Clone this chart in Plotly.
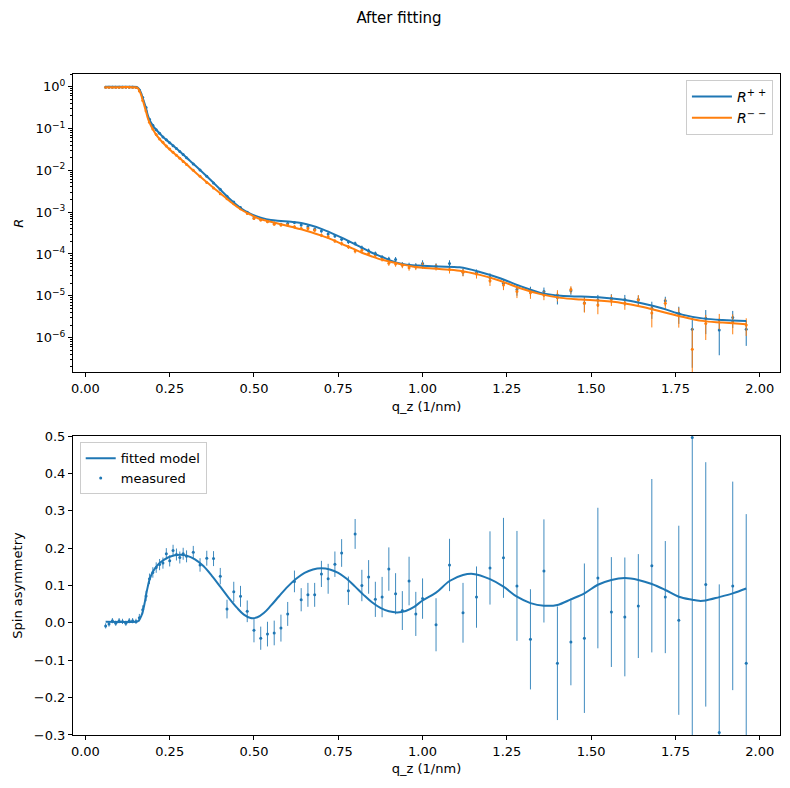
import plotly.graph_objects as go

# measured q points (1/nm), shared by reflectivity and spin asymmetry
q = [0.06, 0.07, 0.08, 0.09, 0.10, 0.11, 0.12, 0.13, 0.14, 0.15,
     0.16, 0.17, 0.18, 0.19, 0.20, 0.21, 0.22, 0.23, 0.24, 0.25,
     0.26, 0.27, 0.28, 0.29, 0.30,
     0.32, 0.34, 0.36, 0.38, 0.40, 0.42, 0.44, 0.46, 0.48, 0.50,
     0.52, 0.54, 0.56, 0.58, 0.60, 0.62, 0.64, 0.66, 0.68, 0.70,
     0.72, 0.74, 0.76, 0.78, 0.80, 0.82, 0.84, 0.86, 0.88, 0.90,
     0.92, 0.94, 0.96, 0.98, 1.00,
     1.04, 1.08, 1.12, 1.16, 1.20, 1.24, 1.28, 1.32, 1.36, 1.40,
     1.44, 1.48, 1.52, 1.56, 1.60, 1.64, 1.68, 1.72, 1.76, 1.80,
     1.84, 1.88, 1.92, 1.96]

# measured reflectivity, log10(R)
log_rpp = [-0.01, -0.01, -0.01, -0.01, -0.01, -0.01, -0.01, -0.01, -0.01, -0.01,
           -0.08, -0.26, -0.50, -0.78, -0.92, -1.03, -1.11, -1.20, -1.27, -1.34,
           -1.41, -1.48, -1.55, -1.62, -1.70,
           -1.85, -1.99, -2.14, -2.30, -2.45, -2.62, -2.76, -2.89, -3.00, -3.14,
           -3.17, -3.21, -3.26, -3.29, -3.27, -3.25, -3.31, -3.35, -3.41, -3.45,
           -3.52, -3.57, -3.65, -3.71, -3.75, -3.85, -3.92, -3.99, -4.08, -4.12,
           -4.13, -4.25, -4.27, -4.28, -4.23,
           -4.29, -4.23, -4.43, -4.45, -4.56, -4.70, -4.85, -4.88, -4.90, -5.04,
           -4.88, -5.17, -5.10, -5.06, -5.09, -5.09, -5.30, -5.12, -5.42, -5.80,
           -5.54, -5.82, -5.52, -5.80]
log_rmm = [-0.015, -0.015, -0.015, -0.015, -0.015, -0.015, -0.015, -0.015, -0.015, -0.02,
           -0.10, -0.33, -0.58, -0.85, -1.01, -1.14, -1.25, -1.33, -1.42, -1.49,
           -1.57, -1.64, -1.71, -1.79, -1.86,
           -2.00, -2.14, -2.29, -2.42, -2.56, -2.68, -2.80, -2.92, -3.03, -3.15,
           -3.19, -3.23, -3.29, -3.31, -3.31, -3.35, -3.39, -3.39, -3.43, -3.55,
           -3.59, -3.69, -3.75, -3.83, -3.93, -3.91, -3.99, -4.03, -4.12, -4.22,
           -4.24, -4.27, -4.33, -4.31, -4.27,
           -4.31, -4.37, -4.44, -4.48, -4.64, -4.74, -4.90, -4.93, -4.98, -4.98,
           -4.85, -5.18, -5.22, -5.09, -5.18, -5.10, -5.41, -5.18, -5.46, -6.28,
           -5.66, -5.58, -5.62, -5.70]

# relative uncertainty dR/R
rel_err_pp = [0.02, 0.02, 0.02, 0.02, 0.02, 0.02, 0.02, 0.02, 0.02, 0.02,
              0.03, 0.03, 0.03, 0.03, 0.03, 0.03, 0.03, 0.03, 0.03, 0.03,
              0.03, 0.03, 0.03, 0.03, 0.03,
              0.04, 0.04, 0.04, 0.05, 0.05, 0.05, 0.05, 0.06, 0.06, 0.06,
              0.07, 0.07, 0.07, 0.08, 0.08, 0.08, 0.08, 0.09, 0.09, 0.09,
              0.10, 0.10, 0.10, 0.11, 0.11, 0.12, 0.12, 0.12, 0.13, 0.13,
              0.14, 0.14, 0.15, 0.15, 0.20,
              0.16, 0.20, 0.20, 0.20, 0.25, 0.25, 0.29, 0.25, 0.25, 0.32,
              0.20, 0.39, 0.32, 0.25, 0.29, 0.25, 0.44, 0.25, 0.44, 0.88,
              0.58, 0.75, 0.44, 0.60]
rel_err_mm = [0.02, 0.02, 0.02, 0.02, 0.02, 0.02, 0.02, 0.02, 0.02, 0.02,
              0.03, 0.03, 0.03, 0.03, 0.03, 0.03, 0.03, 0.03, 0.03, 0.03,
              0.03, 0.03, 0.03, 0.03, 0.03,
              0.04, 0.04, 0.04, 0.05, 0.05, 0.05, 0.05, 0.06, 0.06, 0.06,
              0.07, 0.07, 0.07, 0.08, 0.08, 0.08, 0.08, 0.09, 0.09, 0.10,
              0.10, 0.10, 0.11, 0.11, 0.12, 0.12, 0.12, 0.13, 0.13, 0.14,
              0.14, 0.15, 0.15, 0.16, 0.18,
              0.18, 0.20, 0.20, 0.22, 0.25, 0.25, 0.30, 0.28, 0.25, 0.30,
              0.20, 0.40, 0.40, 0.30, 0.30, 0.30, 0.55, 0.30, 0.50, 2.20,
              0.60, 0.40, 0.50, 0.45]

# fitted reflectivity model, log10(R)
q_fit = [0.06, 0.10, 0.14, 0.15, 0.155, 0.16, 0.165, 0.17, 0.175, 0.18,
         0.185, 0.19, 0.20, 0.21, 0.23, 0.25, 0.28, 0.31, 0.34, 0.37,
         0.40, 0.43, 0.46, 0.49, 0.52, 0.55, 0.58, 0.61, 0.64, 0.67,
         0.70, 0.73, 0.76, 0.79, 0.82, 0.85, 0.88, 0.91, 0.94, 0.97,
         1.00, 1.05, 1.11, 1.17, 1.23, 1.29, 1.35, 1.41, 1.47, 1.53,
         1.59, 1.65, 1.71, 1.77, 1.83, 1.89, 1.96]
log_fit_pp = [0.0, 0.0, 0.0, -0.005, -0.02, -0.07, -0.15, -0.27, -0.39, -0.52,
              -0.68, -0.79, -0.93, -1.03, -1.20, -1.34, -1.55, -1.77, -1.99, -2.22,
              -2.46, -2.70, -2.90, -3.04, -3.13, -3.19, -3.21, -3.23, -3.26, -3.32,
              -3.40, -3.50, -3.61, -3.73, -3.85, -3.97, -4.07, -4.17, -4.24, -4.27,
              -4.28, -4.30, -4.32, -4.43, -4.58, -4.77, -4.93, -5.00, -5.02, -5.04,
              -5.09, -5.18, -5.30, -5.45, -5.54, -5.58, -5.60]
log_fit_mm = [-0.01, -0.01, -0.01, -0.015, -0.03, -0.09, -0.19, -0.32, -0.46, -0.60,
              -0.75, -0.86, -1.02, -1.15, -1.34, -1.50, -1.71, -1.93, -2.15, -2.35,
              -2.55, -2.75, -2.93, -3.06, -3.17, -3.23, -3.29, -3.35, -3.41, -3.48,
              -3.56, -3.65, -3.76, -3.86, -3.97, -4.06, -4.14, -4.20, -4.25, -4.30,
              -4.33, -4.36, -4.40, -4.50, -4.64, -4.82, -4.96, -5.05, -5.09, -5.12,
              -5.17, -5.26, -5.38, -5.50, -5.60, -5.64, -5.68]

# measured spin asymmetry and its uncertainty
spin_asym = [-0.008, -0.003, 0.006, -0.001, 0.006, 0.004, -0.001, 0.006, 0.006, 0.004,
             0.014, 0.035, 0.072, 0.118, 0.135, 0.148, 0.156, 0.160, 0.185, 0.166,
             0.194, 0.183, 0.175, 0.185, 0.178,
             0.189, 0.155, 0.173, 0.172, 0.125, 0.037, 0.083, 0.071, 0.031, -0.020,
             -0.041, -0.030, -0.027, -0.014, 0.024, 0.111, 0.062, 0.075, 0.075, 0.131,
             0.118, 0.157, 0.187, 0.086, 0.238, 0.100, 0.123, 0.063, 0.069, 0.144,
             0.078, 0.033, 0.112, 0.024, 0.065,
             -0.005, 0.155, 0.027, 0.069, 0.147, 0.174, 0.099, -0.044, 0.139, -0.108,
             -0.051, -0.041, 0.120, 0.029, 0.016, 0.045, 0.153, 0.069, 0.007, 0.496,
             0.103, -0.293, 0.099, -0.108]
spin_asym_err = [0.007, 0.007, 0.007, 0.007, 0.007, 0.007, 0.007, 0.007, 0.007, 0.007,
                 0.010, 0.012, 0.014, 0.014, 0.014, 0.014, 0.015, 0.015, 0.015, 0.015,
                 0.015, 0.016, 0.016, 0.016, 0.016,
                 0.017, 0.018, 0.020, 0.020, 0.022, 0.025, 0.027, 0.028, 0.029, 0.032,
                 0.031, 0.033, 0.033, 0.036, 0.032, 0.029, 0.031, 0.032, 0.032, 0.035,
                 0.040, 0.034, 0.037, 0.038, 0.040, 0.042, 0.045, 0.047, 0.054, 0.058,
                 0.055, 0.052, 0.065, 0.059, 0.054,
                 0.071, 0.070, 0.080, 0.082, 0.098, 0.107, 0.147, 0.134, 0.138, 0.152,
                 0.116, 0.200, 0.188, 0.147, 0.159, 0.139, 0.232, 0.150, 0.253, 0.850,
                 0.327, 0.396, 0.279, 0.399]

# fitted spin asymmetry model
q_sa_fit = [0.06, 0.15, 0.155, 0.16, 0.165, 0.17, 0.175, 0.18, 0.185, 0.19,
            0.20, 0.21, 0.22, 0.235, 0.25, 0.28, 0.30, 0.325, 0.35, 0.375,
            0.40, 0.425, 0.45, 0.47, 0.49, 0.51, 0.53, 0.55, 0.575, 0.60,
            0.625, 0.65, 0.675, 0.70, 0.725, 0.75, 0.775, 0.80, 0.825, 0.85,
            0.875, 0.90, 0.925, 0.95, 0.975, 1.00, 1.04, 1.08, 1.12, 1.15,
            1.20, 1.24, 1.28, 1.32, 1.36, 1.40, 1.44, 1.48, 1.52, 1.56,
            1.60, 1.64, 1.68, 1.72, 1.76, 1.80, 1.82, 1.84, 1.88, 1.92, 1.96]
sa_fit = [0.003, 0.003, 0.004, 0.008, 0.017, 0.030, 0.050, 0.075, 0.097, 0.115,
          0.137, 0.150, 0.160, 0.170, 0.177, 0.182, 0.180, 0.170, 0.152, 0.126,
          0.097, 0.067, 0.040, 0.022, 0.013, 0.015, 0.027, 0.046, 0.072, 0.097,
          0.118, 0.134, 0.143, 0.146, 0.143, 0.134, 0.118, 0.097, 0.075, 0.055,
          0.040, 0.031, 0.028, 0.032, 0.043, 0.060, 0.081, 0.112, 0.128, 0.131,
          0.117, 0.097, 0.070, 0.053, 0.046, 0.048, 0.063, 0.079, 0.102, 0.115,
          0.120, 0.115, 0.104, 0.088, 0.070, 0.062, 0.059, 0.060, 0.069, 0.079, 0.092]

BLUE = '#1f77b4'
ORANGE = '#ff7f0e'
FONT = 'DejaVu Sans'

r_pp = [10 ** v for v in log_rpp]
r_mm = [10 ** v for v in log_rmm]
dr_pp = [r * e for r, e in zip(r_pp, rel_err_pp)]
dr_mm = [r * e for r, e in zip(r_mm, rel_err_mm)]

fig = go.Figure()

# reflectivity data
for r, dr, color in [(r_pp, dr_pp, BLUE), (r_mm, dr_mm, ORANGE)]:
    fig.add_trace(go.Scatter(
        x=q, y=r, mode='markers',
        marker=dict(color=color, size=3),
        error_y=dict(type='data', array=dr, color=color, thickness=1, width=0),
        showlegend=False, xaxis='x', yaxis='y',
    ))

# reflectivity fits
fig.add_trace(go.Scatter(
    x=q_fit, y=[10 ** v for v in log_fit_pp], mode='lines',
    line=dict(color=BLUE, width=2, shape='spline'),
    name='<i>R</i><sup>+ +</sup>', legend='legend', xaxis='x', yaxis='y',
))
fig.add_trace(go.Scatter(
    x=q_fit, y=[10 ** v for v in log_fit_mm], mode='lines',
    line=dict(color=ORANGE, width=2, shape='spline'),
    name='<i>R</i><sup>− −</sup>', legend='legend', xaxis='x', yaxis='y',
))

# spin asymmetry
fig.add_trace(go.Scatter(
    x=q_sa_fit, y=sa_fit, mode='lines',
    line=dict(color=BLUE, width=2, shape='spline'),
    name='fitted model', legend='legend2', xaxis='x2', yaxis='y2',
))
fig.add_trace(go.Scatter(
    x=q, y=spin_asym, mode='markers',
    marker=dict(color=BLUE, size=3),
    error_y=dict(type='data', array=spin_asym_err, color='rgba(31,119,180,0.85)',
                 thickness=1, width=0),
    name='measured', legend='legend2', xaxis='x2', yaxis='y2',
))

minor_log = [k * 10 ** e for e in range(-7, 1) for k in range(2, 10)]
axis_common = dict(
    showline=True, linecolor='black', linewidth=1, mirror=True,
    ticks='outside', ticklen=4, tickcolor='black', showgrid=False,
    zeroline=False, automargin=False, tickfont=dict(size=13, color='black'),
)
x_ticks = [0.0, 0.25, 0.5, 0.75, 1.0, 1.25, 1.5, 1.75, 2.0]

# the page body adds 8 px on the left and top, so the figure is 8 px smaller
fig.update_layout(
    width=782, height=780,
    margin=dict(l=65, r=10, t=66, b=53),
    paper_bgcolor='white', plot_bgcolor='white',
    font=dict(family=FONT, size=13, color='black'),
    title=dict(text='After fitting', x=0.5, xanchor='center', y=0.987,
               yanchor='middle', font=dict(size=15)),
    xaxis=dict(axis_common, domain=[0, 1], anchor='y', range=[-0.0368, 2.0602],
               tickvals=x_ticks, tickformat='.2f',
               title=dict(text='q_z (1/nm)', standoff=6, font=dict(size=13))),
    yaxis=dict(axis_common, domain=[0.5487, 1], anchor='x', type='log',
               range=[-6.83, 0.304],
               tickvals=[1e-6, 1e-5, 1e-4, 1e-3, 1e-2, 1e-1, 1],
               ticktext=['10<sup>−6</sup>', '10<sup>−5</sup>', '10<sup>−4</sup>',
                         '10<sup>−3</sup>', '10<sup>−2</sup>', '10<sup>−1</sup>',
                         '10<sup>0</sup>'],
               minor=dict(tickvals=minor_log, ticks='outside', ticklen=2,
                          tickcolor='black'),
               title=dict(text='<i>R</i>', standoff=8, font=dict(size=13))),
    xaxis2=dict(axis_common, domain=[0, 1], anchor='y2', range=[-0.0368, 2.0602],
                tickvals=x_ticks, tickformat='.2f',
                title=dict(text='q_z (1/nm)', standoff=6, font=dict(size=13))),
    yaxis2=dict(axis_common, domain=[0, 0.4523], anchor='x2', range=[-0.3, 0.5],
                tickvals=[-0.3, -0.2, -0.1, 0.0, 0.1, 0.2, 0.3, 0.4, 0.5],
                tickformat='.1f',
                title=dict(text='Spin asymmetry', standoff=8, font=dict(size=13))),
    legend=dict(x=0.99, y=0.991, xanchor='right', yanchor='top',
                bordercolor='#cccccc', borderwidth=1, bgcolor='rgba(255,255,255,0.8)',
                font=dict(size=14), itemwidth=40),
    legend2=dict(x=0.0095, y=0.443, xanchor='left', yanchor='top',
                 bordercolor='#cccccc', borderwidth=1, bgcolor='rgba(255,255,255,0.8)',
                 font=dict(size=13), itemwidth=30),
)

fig.write_html("out.html")
